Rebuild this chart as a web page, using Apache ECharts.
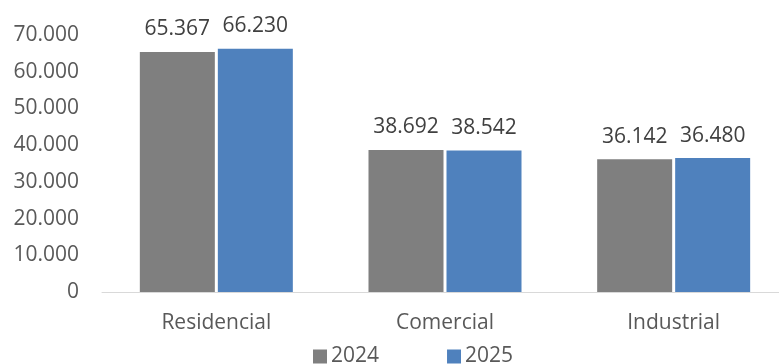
<!DOCTYPE html>
<html>
<head>
<meta charset="utf-8">
<script src="https://cdn.jsdelivr.net/npm/echarts@6/dist/echarts.min.js"></script>
<style>html,body{margin:0;padding:0;background:#fff;}#c{width:779px;height:364px;}</style>
</head>
<body>
<div id="c"></div>
<script>
var categories = ['Residencial', 'Comercial', 'Industrial'];
var seriesNames = ['2024', '2025'];
var values2024 = [65367, 38692, 36142];
var values2025 = [66230, 38542, 36480];
var yTicks = [0, 10000, 20000, 30000, 40000, 50000, 60000, 70000];

function fmt(v) {
  var s = String(Math.round(v));
  return s.replace(/\B(?=(\d{3})+(?!\d))/g, '.');
}

var FONT = 'Open Sans';
var TXT = '#595959';
var chart = echarts.init(document.getElementById('c'), null, {renderer: 'canvas'});
var labelCfg = {
  show: true, position: 'top', distance: 12,
  color: '#404040', fontFamily: FONT, fontSize: 21,
  formatter: function (p) { return fmt(p.value); }
};
chart.setOption({
  animation: false,
  grid: {left: 102, top: 35, width: 686, height: 257, outerBoundsMode: 'none', containLabel: false},
  legend: {
    data: seriesNames, left: 308, top: 341, icon: 'rect',
    itemWidth: 14, itemHeight: 14, itemGap: 68,
    textStyle: {color: TXT, fontFamily: FONT, fontSize: 21, padding: [0, 0, 0, -1]}
  },
  xAxis: {
    type: 'category', data: categories,
    axisLine: {lineStyle: {color: '#d9d9d9', width: 1}},
    axisTick: {show: false},
    axisLabel: {color: TXT, fontFamily: FONT, fontSize: 21, margin: 21}
  },
  yAxis: {
    type: 'value', min: yTicks[0], max: yTicks[yTicks.length - 1], interval: 10000,
    axisLine: {show: false}, axisTick: {show: false}, splitLine: {show: false},
    axisLabel: {color: TXT, fontFamily: FONT, fontSize: 21, margin: 23, formatter: fmt}
  },
  series: [
    {name: seriesNames[0], type: 'bar', data: values2024, barWidth: 75, barGap: '4%',
     itemStyle: {color: '#7f7f7f'}, label: labelCfg},
    {name: seriesNames[1], type: 'bar', data: values2025, barWidth: 75, barGap: '4%',
     itemStyle: {color: '#4f81bd'}, label: labelCfg}
  ]
});
</script>
</body>
</html>
